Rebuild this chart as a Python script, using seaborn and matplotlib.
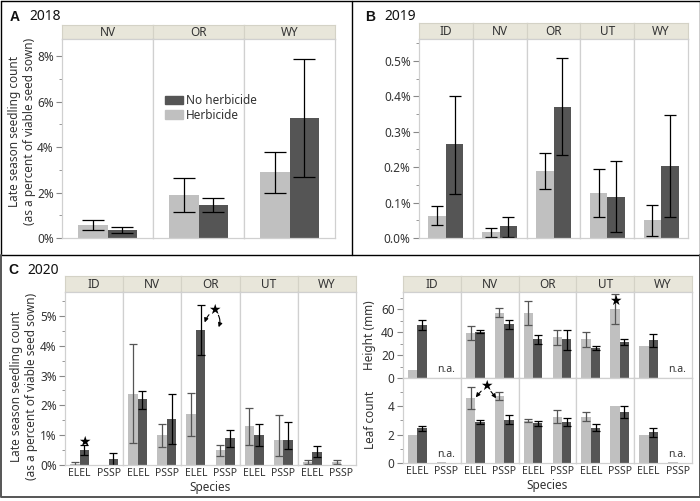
import numpy as np
import pandas as pd
import seaborn as sns
import matplotlib
matplotlib.use("Agg")
import matplotlib.pyplot as plt
from matplotlib.ticker import PercentFormatter, MultipleLocator
from matplotlib.patches import Patch
from matplotlib.lines import Line2D

nan = np.nan

# --- A: 2018 (percent of viable seed sown) ---
A_states = ["NV", "OR", "WY"]
A_herb = [0.57, 1.90, 2.92]
A_herb_lo = [0.35, 1.13, 2.00]
A_herb_hi = [0.77, 2.66, 3.80]
A_noh = [0.37, 1.47, 5.29]
A_noh_lo = [0.22, 1.13, 2.68]
A_noh_hi = [0.48, 1.77, 7.89]

# --- B: 2019 ---
B_states = ["ID", "NV", "OR", "UT", "WY"]
B_herb = [0.063, 0.016, 0.190, 0.127, 0.050]
B_herb_lo = [0.036, 0.004, 0.138, 0.058, 0.006]
B_herb_hi = [0.089, 0.027, 0.241, 0.194, 0.093]
B_noh = [0.265, 0.033, 0.371, 0.117, 0.203]
B_noh_lo = [0.124, 0.004, 0.234, 0.016, 0.058]
B_noh_hi = [0.402, 0.060, 0.508, 0.218, 0.347]

# --- C: 2020, state x species (ID-ELEL, ID-PSSP, NV-ELEL, ...) ---
C_states = ["ID", "NV", "OR", "UT", "WY"]
C_species = ["ELEL", "PSSP"]
C_herb = [0.05, 0.0, 2.39, 1.01, 1.70, 0.50, 1.30, 0.85, 0.11, 0.09]
C_herb_lo = [0.0, nan, 0.74, 0.60, 0.96, 0.30, 0.67, 0.31, 0.03, 0.02]
C_herb_hi = [0.11, nan, 4.05, 1.39, 2.43, 0.68, 1.92, 1.69, 0.18, 0.17]
C_noh = [0.51, 0.20, 2.20, 1.55, 4.54, 0.91, 1.01, 0.85, 0.45, nan]
C_noh_lo = [0.34, 0.0, 1.88, 0.72, 3.70, 0.60, 0.64, 0.53, 0.26, nan]
C_noh_hi = [0.66, 0.41, 2.49, 2.37, 5.36, 1.17, 1.38, 1.44, 0.64, nan]

# height (mm)
H_herb = [7.2, nan, 39.2, 57.1, 56.8, 35.8, 34.0, 60.0, 28.3, nan]
H_herb_lo = [7.2, nan, 33.2, 52.8, 46.4, 29.1, 27.4, 47.0, 28.3, nan]
H_herb_hi = [7.2, nan, 45.0, 61.4, 67.2, 42.1, 39.8, 73.3, 28.3, nan]
H_noh = [45.9, nan, 40.4, 46.7, 33.7, 33.7, 26.5, 31.4, 32.9, nan]
H_noh_lo = [41.5, nan, 39.2, 43.0, 29.7, 24.5, 24.8, 28.8, 27.4, nan]
H_noh_hi = [50.8, nan, 41.5, 50.2, 37.8, 41.8, 28.3, 33.7, 38.7, nan]

# leaf count
L_herb = [2.0, 0.05, 4.56, 4.71, 2.99, 3.25, 3.25, 4.0, 2.0, 0.05]
L_herb_lo = [2.0, nan, 3.79, 4.40, 2.87, 2.78, 2.92, 4.0, 2.0, nan]
L_herb_hi = [2.0, nan, 5.36, 5.01, 3.11, 3.72, 3.58, 4.0, 2.0, nan]
L_noh = [2.45, nan, 2.89, 3.06, 2.78, 2.87, 2.47, 3.60, 2.16, nan]
L_noh_lo = [2.28, nan, 2.73, 2.73, 2.61, 2.59, 2.24, 3.20, 1.86, nan]
L_noh_hi = [2.59, nan, 3.06, 3.39, 2.94, 3.20, 2.71, 4.00, 2.49, nan]

TREAT = ["Herbicide", "No herbicide"]
LIGHT, DARK = "#c0c0c0", "#555555"
STRIP = "#e8e6da"
FRAME = "#d0d0d0"
TXT = "#333333"
BW = 0.65
FS = 8.5
W, H = 700, 501

sns.set_theme(style="white")
plt.rcParams["font.family"] = ["Noto Sans", "DejaVu Sans"]


def fx(px):
    return px / W


def fy(py):
    return 1 - py / H


def long_df(states, species, herb, herb_lo, herb_hi, noh, noh_lo, noh_hi):
    rows = []
    i = 0
    for s in states:
        for sp in species:
            rows.append((s, sp, "Herbicide", herb[i], herb_lo[i], herb_hi[i]))
            rows.append((s, sp, "No herbicide", noh[i], noh_lo[i], noh_hi[i]))
            i += 1
    return pd.DataFrame(rows, columns=["state", "species", "treatment", "value", "lo", "hi"])


def strip_row(fig, states, left, right, top, bottom):
    w = (right - left) / len(states)
    for i, s in enumerate(states):
        sax = fig.add_axes([fx(left + i * w), fy(bottom), fx(w), (bottom - top) / H])
        sax.set_facecolor(STRIP)
        sax.set_xticks([])
        sax.set_yticks([])
        for sp in sax.spines.values():
            sp.set_color("#d4d2c6")
            sp.set_linewidth(0.8)
        sax.text(0.5, 0.45, s, ha="center", va="center", fontsize=FS, color=TXT,
                 transform=sax.transAxes)


def facets(fig, df, states, species, left, right, top, bottom, ylim, major, minor,
           fmt=None, capsize=3, herb_err="black", show_x=False):
    w = (right - left) / len(states)
    axes = []
    for i, s in enumerate(states):
        ax = fig.add_axes([fx(left + i * w), fy(bottom), fx(w), (bottom - top) / H])
        sub = df[df["state"] == s].dropna(subset=["value"])
        sns.barplot(data=sub, x="species", y="value", hue="treatment", order=species,
                    hue_order=TREAT, palette=[LIGHT, DARK], width=BW, saturation=1,
                    errorbar=None, legend=False, linewidth=0, ax=ax)
        for j, sp in enumerate(species):
            for k, t in enumerate(TREAT):
                r = sub[(sub["species"] == sp) & (sub["treatment"] == t)]
                if r.empty or np.isnan(r["lo"].iloc[0]):
                    continue
                y, lo, hi = r["value"].iloc[0], r["lo"].iloc[0], r["hi"].iloc[0]
                if hi - lo < 1e-9:
                    continue
                xpos = j + (k - 0.5) * BW / 2
                ax.errorbar(xpos, y, yerr=[[y - lo], [hi - y]], fmt="none",
                            ecolor=herb_err if k == 0 else "black",
                            elinewidth=0.9, capsize=capsize, capthick=0.9)
        ax.set_xlim(-0.5, len(species) - 0.5)
        ax.set_ylim(*ylim)
        ax.set_xlabel("")
        ax.set_ylabel("")
        for sp in ax.spines.values():
            sp.set_color(FRAME)
            sp.set_linewidth(0.9)
        if show_x:
            ax.set_xticks(range(len(species)), species)
            ax.tick_params(axis="x", length=0, pad=2, labelsize=7.5, labelcolor=TXT)
        else:
            ax.set_xticks([])
        ax.yaxis.set_major_locator(MultipleLocator(major))
        ax.yaxis.set_minor_locator(MultipleLocator(minor))
        if i == 0:
            if fmt is not None:
                ax.yaxis.set_major_formatter(fmt)
            ax.tick_params(axis="y", which="both", left=True, direction="out",
                           color="#888888", labelsize=FS, labelcolor=TXT, pad=2)
            ax.tick_params(axis="y", which="major", length=4, width=0.8)
            ax.tick_params(axis="y", which="minor", length=2, width=0.6)
        else:
            ax.tick_params(axis="y", which="both", left=False, labelleft=False)
        axes.append(ax)
    return axes


def star(ax, x, y):
    ax.text(x, y, "\u2605", ha="center", va="center", fontsize=10,
            family="DejaVu Sans", color="black", zorder=5)


def curved_arrow(ax, start, end, rad):
    ax.annotate("", xy=end, xytext=start,
                arrowprops=dict(arrowstyle="-|>", connectionstyle=f"arc3,rad={rad}",
                                color="black", lw=0.8, mutation_scale=6,
                                shrinkA=5, shrinkB=0))


def panel_title(x, y, letter, year):
    fig.text(fx(x), fy(y), letter, fontsize=10, fontweight="bold", va="center",
             family="Liberation Sans", color="#111111")
    fig.text(fx(x + 19), fy(y), year, fontsize=10, va="center", color="#111111")


fig = plt.figure(figsize=(7, 5.01), dpi=100)

# ---------- A ----------
dfA = long_df(A_states, ["all"], A_herb, A_herb_lo, A_herb_hi, A_noh, A_noh_lo, A_noh_hi)
strip_row(fig, A_states, 62, 335, 25, 39)
axA = facets(fig, dfA, A_states, ["all"], 62, 335, 39, 238, (0, 8.75), 2, 1,
             fmt=PercentFormatter(100, decimals=0), capsize=8)
fig.text(fx(22), fy(131), "Late season seedling count\n(as a percent of viable seed sown)",
         rotation=90, ha="center", va="center", fontsize=FS, color=TXT, linespacing=1.2)
fig.legend(handles=[Patch(color=DARK, label="No herbicide"),
                    Patch(color=LIGHT, label="Herbicide")],
           loc="upper left", bbox_to_anchor=(fx(159), fy(88)), frameon=False,
           fontsize=FS, handlelength=1.5, handleheight=0.7, handletextpad=0.25,
           labelspacing=0.15, borderpad=0, labelcolor=TXT)
panel_title(10, 17, "A", "2018")

# ---------- B ----------
dfB = long_df(B_states, ["all"], B_herb, B_herb_lo, B_herb_hi, B_noh, B_noh_lo, B_noh_hi)
strip_row(fig, B_states, 419, 688, 23, 39)
axB = facets(fig, dfB, B_states, ["all"], 419, 688, 39, 238, (0, 0.562), 0.1, 0.05,
             fmt=PercentFormatter(100, decimals=1), capsize=4.3)
panel_title(365, 17, "B", "2019")

# ---------- C left ----------
dfC = long_df(C_states, C_species, C_herb, C_herb_lo, C_herb_hi, C_noh, C_noh_lo, C_noh_hi)
strip_row(fig, C_states, 65, 356, 276, 292)
axC = facets(fig, dfC, C_states, C_species, 65, 356, 292, 465, (0, 5.8), 1, 0.5,
             fmt=PercentFormatter(100, decimals=0), capsize=3, herb_err="#555555",
             show_x=True)
fig.text(fx(24), fy(386), "Late season seedling count\n(as a percent of viable seed sown)",
         rotation=90, ha="center", va="center", fontsize=FS, color=TXT, linespacing=1.2)
fig.text(fx(210), fy(488), "Species", ha="center", va="center", fontsize=FS, color=TXT)
panel_title(8, 270, "C", "2020")

star(axC[0], 0.16, 0.76)
star(axC[2], 0.62, 5.2)
curved_arrow(axC[2], (0.62, 5.2), (0.30, 4.78), 0.15)
curved_arrow(axC[2], (0.62, 5.2), (0.78, 4.62), -0.35)

# ---------- C right ----------
dfH = long_df(C_states, C_species, H_herb, H_herb_lo, H_herb_hi, H_noh, H_noh_lo, H_noh_hi)
dfL = long_df(C_states, C_species, L_herb, L_herb_lo, L_herb_hi, L_noh, L_noh_lo, L_noh_hi)
strip_row(fig, C_states, 403, 692, 276, 292)
axH = facets(fig, dfH, C_states, C_species, 403, 692, 292, 378, (0, 75), 20, 10,
             capsize=3, herb_err="#555555")
axL = facets(fig, dfL, C_states, C_species, 403, 692, 378, 463, (0, 5.98), 2, 1,
             capsize=3, herb_err="#555555", show_x=True)
fig.text(fx(370), fy(335), "Height (mm)", rotation=90, ha="center", va="center",
         fontsize=FS, color=TXT)
fig.text(fx(370), fy(420), "Leaf count", rotation=90, ha="center", va="center",
         fontsize=FS, color=TXT)
fig.text(fx(547), fy(486), "Species", ha="center", va="center", fontsize=FS, color=TXT)

for k in (0, 4):
    axH[k].text(1.0, 0.03, "n.a.", transform=axH[k].get_xaxis_transform(),
                ha="center", va="bottom", fontsize=7.5, color=TXT)
    axL[k].text(1.0, 0.03, "n.a.", transform=axL[k].get_xaxis_transform(),
                ha="center", va="bottom", fontsize=7.5, color=TXT)

star(axH[3], 0.84, 66.8)
star(axL[1], 0.38, 5.39)
curved_arrow(axL[1], (0.38, 5.39), (0.02, 4.62), 0.05)
curved_arrow(axL[1], (0.38, 5.39), (0.72, 4.55), -0.05)

# ---------- panel frames ----------
def fline(xs, ys, color="black", lw=1.0):
    fig.add_artist(Line2D([fx(x) for x in xs], [fy(y) for y in ys],
                          color=color, lw=lw, transform=fig.transFigure))

fline([0.5, 699.5, 699.5, 0.5, 0.5], [0.5, 0.5, 255, 255, 0.5])
fline([352, 352], [0.5, 255])
fline([0.5, 0.5, 699.5, 699.5], [255, 497, 497, 255], color="#555555", lw=1.4)

fig.savefig("out.png", dpi=100)
